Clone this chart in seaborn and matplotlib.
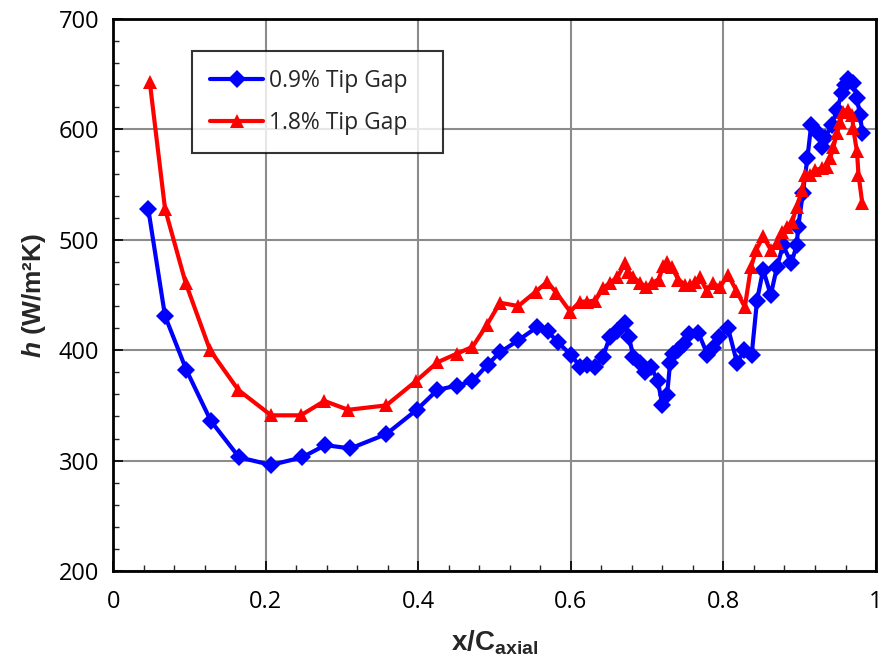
import matplotlib
matplotlib.use("Agg")
import matplotlib.pyplot as plt
from matplotlib.ticker import MultipleLocator
import seaborn as sns
import pandas as pd

# Heat transfer coefficient along the tip, two tip-gap sizes
x_09 = [0.046, 0.068, 0.096, 0.128, 0.165, 0.207, 0.248, 0.278, 0.311, 0.358,
        0.398, 0.425, 0.451, 0.471, 0.491, 0.507, 0.531, 0.556, 0.570, 0.583,
        0.600, 0.612, 0.621, 0.632, 0.642, 0.651, 0.661, 0.671, 0.676, 0.682,
        0.690, 0.697, 0.705, 0.714, 0.720, 0.726, 0.730, 0.734, 0.741, 0.748,
        0.755, 0.767, 0.779, 0.786, 0.794, 0.806, 0.818, 0.827, 0.837, 0.844,
        0.852, 0.862, 0.870, 0.878, 0.889, 0.896, 0.898, 0.904, 0.910, 0.915,
        0.924, 0.929, 0.933, 0.942, 0.949, 0.955, 0.959, 0.963, 0.970, 0.975,
        0.979, 0.982]
h_09 = [528, 431, 382, 336, 303, 296, 303, 314, 311, 324,
        346, 364, 368, 372, 387, 398, 409, 421, 417, 407,
        396, 385, 387, 385, 394, 412, 417, 425, 412, 394,
        388, 380, 385, 372, 350, 359, 388, 397, 400, 406,
        415, 416, 396, 402, 412, 420, 388, 400, 396, 445,
        473, 450, 475, 495, 479, 495, 512, 542, 574, 604,
        597, 584, 592, 604, 618, 633, 640, 646, 642, 628,
        613, 597]

x_18 = [0.048, 0.068, 0.095, 0.127, 0.164, 0.207, 0.246, 0.277, 0.308, 0.358,
        0.397, 0.425, 0.451, 0.471, 0.490, 0.507, 0.531, 0.554, 0.569, 0.581,
        0.599, 0.612, 0.621, 0.632, 0.642, 0.651, 0.661, 0.671, 0.675, 0.682,
        0.691, 0.699, 0.706, 0.715, 0.721, 0.726, 0.732, 0.741, 0.750, 0.756,
        0.763, 0.769, 0.778, 0.786, 0.795, 0.806, 0.817, 0.828, 0.836, 0.843,
        0.852, 0.862, 0.870, 0.877, 0.883, 0.890, 0.896, 0.903, 0.907, 0.913,
        0.920, 0.929, 0.936, 0.940, 0.944, 0.949, 0.953, 0.957, 0.963, 0.969,
        0.970, 0.975, 0.977, 0.982]
h_18 = [643, 528, 461, 400, 364, 341, 341, 354, 346, 350,
        372, 389, 397, 403, 423, 443, 440, 453, 462, 452,
        435, 444, 444, 445, 456, 461, 466, 479, 471, 466,
        461, 457, 461, 464, 476, 480, 475, 464, 459, 459,
        462, 466, 454, 461, 457, 468, 454, 439, 475, 491,
        503, 491, 497, 507, 512, 516, 530, 545, 559, 559,
        563, 565, 566, 574, 584, 597, 607, 616, 618, 613,
        601, 580, 559, 533]

labels = ["0.9% Tip Gap", "1.8% Tip Gap"]
colors = ["#0000FF", "#FF0000"]
markers = ["D", "^"]

df = pd.concat([
    pd.DataFrame({"x": x_09, "h": h_09, "gap": labels[0]}),
    pd.DataFrame({"x": x_18, "h": h_18, "gap": labels[1]}),
])

sns.set_style("white")
plt.rcParams["font.family"] = ["Liberation Sans Narrow", "Open Sans", "DejaVu Sans"]
plt.rcParams["mathtext.fontset"] = "custom"
plt.rcParams["mathtext.rm"] = "Liberation Sans"
plt.rcParams["mathtext.bf"] = "Liberation Sans:bold"
plt.rcParams["mathtext.bfit"] = "Liberation Sans:bold:italic"

fig = plt.figure(figsize=(8.84, 6.65), dpi=100)
ax = fig.add_axes([0.128, 0.1414, 0.863, 0.8300])

sns.lineplot(data=df, x="x", y="h", hue="gap", style="gap",
             hue_order=labels, style_order=labels,
             palette=colors, markers=markers, dashes=False, sort=False,
             linewidth=3, markersize=9, markeredgewidth=0, ax=ax)

# triangles a touch larger than the diamonds
for line in ax.get_lines():
    if line.get_marker() == "^":
        line.set_markersize(10.5)

ax.set_xlim(0, 1)
ax.set_ylim(200, 700)
ax.xaxis.set_minor_locator(MultipleLocator(0.04))
ax.yaxis.set_major_locator(MultipleLocator(100))
ax.yaxis.set_minor_locator(MultipleLocator(20))
ax.set_xticks([0, 0.2, 0.4, 0.6, 0.8, 1.0])
ax.set_xticklabels(["0", "0.2", "0.4", "0.6", "0.8", "1"])

ax.grid(True, which="major", color="#8C8C8C", linewidth=1.5)
ax.set_axisbelow(True)
for s in ax.spines.values():
    s.set_visible(True)
    s.set_color("black")
    s.set_linewidth(2)

ax.tick_params(which="major", direction="in", length=7, width=1.2,
               labelsize=17, pad=14, colors="black",
               bottom=True, left=True, top=False, right=False)
ax.tick_params(which="minor", direction="in", length=4, width=1.0,
               bottom=True, left=True, top=False, right=False)
ax.tick_params(axis="y", pad=10)

ax.set_xlabel(r"x/C$_{\mathbf{axial}}$", fontsize=20, fontweight="bold",
              family=["Liberation Sans", "DejaVu Sans"], labelpad=10)
ax.set_ylabel(r"$\mathbfit{h}$ (W/m²K)", fontsize=19, fontweight="bold",
              family=["Liberation Sans", "DejaVu Sans"], labelpad=8)

leg = ax.legend(loc="upper left", bbox_to_anchor=(0.1035, 0.942, 0.329, 0.0),
                mode="expand", borderaxespad=0, frameon=True, fancybox=False,
                prop={"family": ["Open Sans", "DejaVu Sans"], "size": 16.5},
                handlelength=2.3, borderpad=0.8, labelspacing=0.75,
                handletextpad=0.25)
leg.get_frame().set_edgecolor("black")
leg.get_frame().set_linewidth(1.5)

fig.savefig("out.png", dpi=100)
